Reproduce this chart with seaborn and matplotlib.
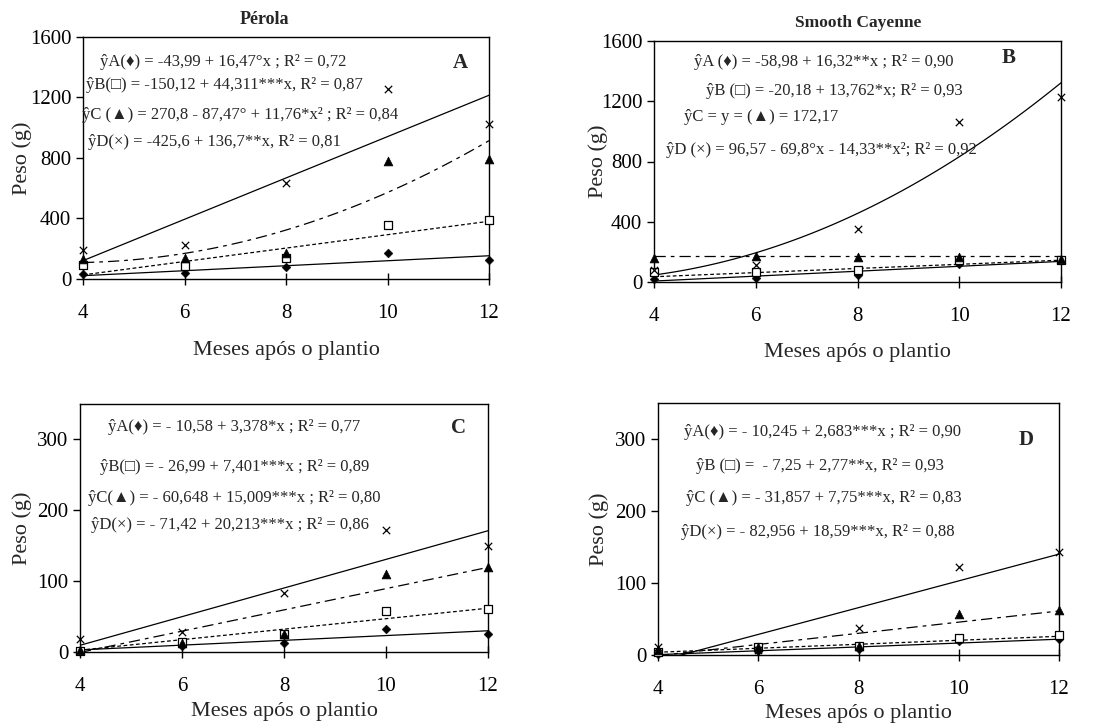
import numpy as np
import pandas as pd
import matplotlib
matplotlib.use("Agg")
import matplotlib.pyplot as plt
import seaborn as sns

# meses apos o plantio
meses = [4, 6, 8, 10, 12]

perola_A = [35, 40, 77, 171, 127]
perola_B = [90, 84, 138, 354, 387]
perola_C = [132, 138, 171, 780, 793]
perola_D = [189, 226, 637, 1259, 1024]

cayenne_A = [22, 29, 44, 122, 148]
cayenne_B = [66, 66, 82, 144, 148]
cayenne_C = [162, 170, 166, 166, 155]
cayenne_D = [77, 110, 352, 1062, 1228]

painelC_A = [1.4, 8, 12, 33, 25]
painelC_B = [2, 14, 26, 58, 61]
painelC_C = [3, 12, 25, 110, 120]
painelC_D = [19, 28, 83, 172, 150]

painelD_A = [2, 6, 8, 19, 22]
painelD_B = [4, 11, 12, 23, 28]
painelD_C = [7, 11, 13, 57, 62]
painelD_D = [11, 7, 38, 122, 143]

# coeficientes das equacoes (b0, b1, b2)
coef_perola = [[-43.99, 16.47, 0], [-150.12, 44.311, 0], [270.8, -87.47, 11.76], [-425.6, 136.7, 0]]
coef_cayenne = [[-58.98, 16.32, 0], [-20.18, 13.762, 0], [172.17, 0, 0], [96.57, -69.8, 14.33]]
coef_painelC = [[-10.58, 3.378, 0], [-26.99, 7.401, 0], [-60.648, 15.009, 0], [-71.42, 20.213, 0]]
coef_painelD = [[-10.245, 2.683, 0], [-7.25, 2.77, 0], [-31.857, 7.75, 0], [-82.956, 18.59, 0]]

eq_perola = ["ŷA(♦) = -43,99 + 16,47°x ; R² = 0,72",
             "ŷB(□) = -150,12 + 44,311***x, R² = 0,87",
             "ŷC (▲) = 270,8 - 87,47° + 11,76*x² ; R² = 0,84",
             "ŷD(×) = -425,6 + 136,7**x, R² = 0,81"]
eq_cayenne = ["ŷA (♦) = -58,98 + 16,32**x ; R² = 0,90",
              "ŷB (□) = -20,18 + 13,762*x; R² = 0,93",
              "ŷC = y = (▲) = 172,17",
              "ŷD (×) = 96,57 - 69,8°x - 14,33**x²; R² = 0,92"]
eq_painelC = ["ŷA(♦) = - 10,58 + 3,378*x ; R² = 0,77",
              "ŷB(□) = - 26,99 + 7,401***x ; R² = 0,89",
              "ŷC(▲) = - 60,648 + 15,009***x ; R² = 0,80",
              "ŷD(×) = - 71,42 + 20,213***x ; R² = 0,86"]
eq_painelD = ["ŷA(♦) = - 10,245 + 2,683***x ; R² = 0,90",
              "ŷB (□) =  - 7,25 + 2,77**x, R² = 0,93",
              "ŷC (▲) = - 31,857 + 7,75***x, R² = 0,83",
              "ŷD(×) = - 82,956 + 18,59***x, R² = 0,88"]

sns.set_theme(style="ticks")
plt.rcParams['font.family'] = ['Liberation Serif', 'DejaVu Serif']
plt.rcParams['axes.linewidth'] = 1.0

W, H = 1112, 726
fig = plt.figure(figsize=(W / 100, H / 100), dpi=100)

def px(x, y):
    return x / W, 1 - y / H

# caixas dos eixos em pixels: esquerda, topo, direita, base
caixas = [(83, 37, 489, 279), (654, 41, 1061, 282), (80, 404, 488, 652), (658, 403, 1059, 655)]
ylims = [(0, 1600), (0, 1600), (0, 350), (0, 350)]
yticks = [[0, 400, 800, 1200, 1600], [0, 400, 800, 1200, 1600], [0, 100, 200, 300], [0, 100, 200, 300]]
letras = ["A", "B", "C", "D"]
letra_pos = [(460, 63), (1009, 58), (458, 428), (1026, 440)]
xlabel_y = [-0.255, -0.255, -0.2, -0.195]
ylabel_x = [-0.126, -0.113, -0.118, -0.122]
dados = [[perola_A, perola_B, perola_C, perola_D],
         [cayenne_A, cayenne_B, cayenne_C, cayenne_D],
         [painelC_A, painelC_B, painelC_C, painelC_D],
         [painelD_A, painelD_B, painelD_C, painelD_D]]
coefs = [coef_perola, coef_cayenne, coef_painelC, coef_painelD]
equacoes = [eq_perola, eq_cayenne, eq_painelC, eq_painelD]
eq_pos = [[(100, 62), (86, 85), (82, 115), (88, 142)],
          [(694, 62), (706, 91), (684, 117), (666, 150)],
          [(108, 427), (100, 467), (88, 498), (91, 525)],
          [(684, 432), (696, 466), (686, 498), (681, 532)]]

estilos_linha = ['-', (0, (3, 2)), (0, (9, 4, 3, 4)), '-']
marcadores = [dict(marker='D', s=20, color='black', edgecolor='black'),
              dict(marker='s', s=36, color='white', edgecolor='black', linewidth=0.9),
              dict(marker='^', s=40, color='black', edgecolor='black'),
              dict(marker='x', s=28, color='black', linewidth=0.9)]

xs = np.linspace(4, 12, 81)

for i in range(4):
    l, t, r, b = caixas[i]
    ax = fig.add_axes([l / W, 1 - b / H, (r - l) / W, (b - t) / H])
    for j in range(4):
        c0, c1, c2 = coefs[i][j]
        curva = pd.DataFrame({"mes": xs, "peso": c0 + c1 * xs + c2 * xs ** 2})
        sns.lineplot(data=curva, x="mes", y="peso", ax=ax, color='black', lw=0.9,
                     linestyle=estilos_linha[j], zorder=2)
    for j in range(4):
        obs = pd.DataFrame({"mes": meses, "peso": dados[i][j]})
        sns.scatterplot(data=obs, x="mes", y="peso", ax=ax, zorder=3, clip_on=False, **marcadores[j])
    ax.set_xlim(4, 12)
    ax.set_ylim(*ylims[i])
    ax.set_xticks(meses)
    ax.set_yticks(yticks[i])
    ax.tick_params(axis='x', direction='inout', length=8, width=1, labelsize=15, pad=14, colors='black')
    ax.tick_params(axis='y', direction='out', length=5, width=1, labelsize=15, colors='black')
    for sp in ax.spines.values():
        sp.set_visible(True)
        sp.set_color('black')
    ax.set_xlabel("Meses após o plantio", fontsize=16)
    ax.set_ylabel("Peso (g)", fontsize=16)
    ax.xaxis.set_label_coords(0.5, xlabel_y[i])
    ax.yaxis.set_label_coords(ylabel_x[i], 0.5)
    fig.text(*px(*letra_pos[i]), letras[i], fontsize=15, fontweight='bold', ha='center', va='center')
    for k in range(4):
        fig.text(*px(*eq_pos[i][k]), equacoes[i][k], fontsize=12, ha='left', va='center')

fig.text(*px(264, 20), "Pérola", fontsize=13, fontweight='bold', ha='center', va='center')
fig.text(*px(858, 23), "Smooth Cayenne", fontsize=12.5, fontweight='bold', ha='center', va='center')

fig.savefig("out.png", dpi=100, facecolor='white')
